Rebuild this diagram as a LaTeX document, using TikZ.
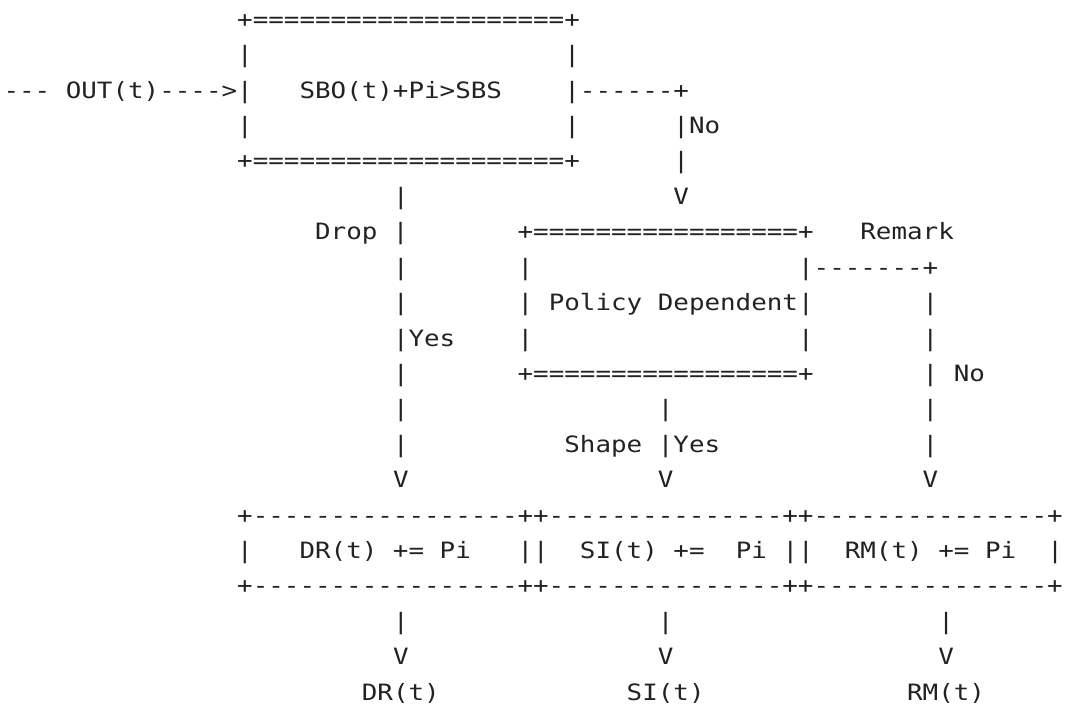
\documentclass[tikz,border=0pt]{standalone}
\usepackage{fontspec}
\setmonofont[FakeStretch=1.15]{DejaVu Sans Mono}
\usepackage{tikz}
\usepackage{xcolor}
\definecolor{ink}{HTML}{222222}

\begin{document}
\begin{tikzpicture}[x=15.58pt, y=-35.4pt,
  asc/.style={anchor=base west, inner sep=0pt, outer sep=0pt, text=ink,
    font=\fontsize{22.5}{27}\ttfamily}]
\useasboundingbox (0pt,0pt) rectangle (1065pt,-708pt);
\begin{scope}[shift={(3.51pt,-27.4pt)}]
  \node (sbotop) at (15,0) [asc] {+====================+};
  \node (sbol1) at (15,1) [asc] {|};
  \node (sbor1) at (36,1) [asc] {|};
  \node (outin) at (0,2) [asc] {--- OUT(t)---->|};
  \node (sbo) at (19,2) [asc] {SBO(t)+Pi>SBS};
  \node (sbono) at (36,2) [asc] {|------+};
  \node (sbol3) at (15,3) [asc] {|};
  \node (sbor3) at (36,3) [asc] {|};
  \node (nolbl) at (43,3) [asc] {|No};
  \node (sbobot) at (15,4) [asc] {+====================+};
  \node (no4) at (43,4) [asc] {|};
  \node (drop5) at (25,5) [asc] {|};
  \node (no5) at (43,5) [asc] {V};

  \node (droplbl) at (20,6) [asc] {Drop |};
  \node (poltop) at (33,6) [asc] {+=================+};
  \node (remark) at (55,6) [asc] {Remark};
  \node (drop7) at (25,7) [asc] {|};
  \node (poll7) at (33,7) [asc] {|};
  \node (polrm) at (51,7) [asc] {|-------+};
  \node (drop8) at (25,8) [asc] {|};
  \node (policy) at (33,8) [asc] {| Policy Dependent|};
  \node (rm8) at (59,8) [asc] {|};
  \node (dropyes) at (25,9) [asc] {|Yes};
  \node (poll9) at (33,9) [asc] {|};
  \node (polr9) at (51,9) [asc] {|};
  \node (rm9) at (59,9) [asc] {|};
  \node (drop10) at (25,10) [asc] {|};
  \node (polbot) at (33,10) [asc] {+=================+};
  \node (rmno) at (59,10) [asc] {| No};
  \node (drop11) at (25,11) [asc] {|};
  \node (shape11) at (42,11) [asc] {|};
  \node (rm11) at (59,11) [asc] {|};
  \node (drop12) at (25,12) [asc] {|};
  \node (shapeyes) at (36,12) [asc] {Shape |Yes};
  \node (rm12) at (59,12) [asc] {|};
  \node (drophead) at (25,13) [asc] {V};
  \node (shapehead) at (42,13) [asc] {V};
  \node (rmhead) at (59,13) [asc] {V};

  \node (cnttop) at (15,14) [asc] {+-----------------++---------------++---------------+};
  \node (cntl) at (15,15) [asc] {|};
  \node (drcnt) at (19,15) [asc] {DR(t) += Pi};
  \node (cntm1) at (33,15) [asc] {||};
  \node (sicnt) at (37,15) [asc] {SI(t) +=};
  \node (sipi) at (47,15) [asc] {Pi};
  \node (cntm2) at (50,15) [asc] {||};
  \node (rmcnt) at (54,15) [asc] {RM(t) += Pi};
  \node (cntr) at (67,15) [asc] {|};
  \node (cntbot) at (15,16) [asc] {+-----------------++---------------++---------------+};

  \node (drout) at (25,17) [asc] {|};
  \node (siout) at (42,17) [asc] {|};
  \node (rmout) at (60,17) [asc] {|};
  \node (drv) at (25,18) [asc] {V};
  \node (siv) at (42,18) [asc] {V};
  \node (rmv) at (60,18) [asc] {V};
  \node (dr) at (23,19) [asc] {DR(t)};
  \node (si) at (40,19) [asc] {SI(t)};
  \node (rm) at (58,19) [asc] {RM(t)};
\end{scope}
\end{tikzpicture}
\end{document}
